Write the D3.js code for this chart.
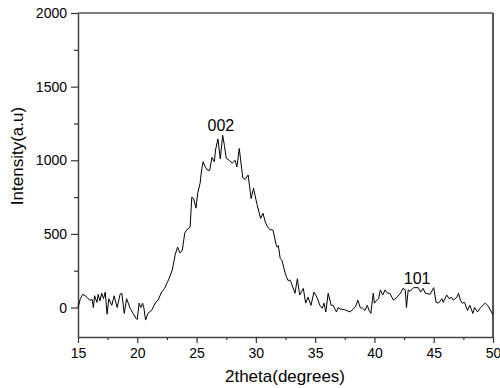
<!DOCTYPE html>
<html lang="en">
<head>
<meta charset="utf-8">
<script src="https://d3js.org/d3.v7.min.js"></script>
<style>
  body { margin: 0; background: #fff; }
  text { font-family: "Liberation Sans", Arial, sans-serif; fill: #000; }
</style>
</head>
<body>
<script>
// 2theta (degrees) and intensity
var twoTheta = [15.0,15.2,15.4,15.7,15.85,16.0,16.2,16.3,16.4,16.6,16.7,16.85,17.0,17.15,17.3,17.45,17.6,17.85,18.05,18.3,18.55,18.7,18.9,19.1,19.4,19.65,19.9,20.0,20.15,20.3,20.45,20.55,20.7,20.9,21.2,21.55,21.75,22.05,22.3,22.5,22.7,22.95,23.2,23.4,23.6,23.8,24.0,24.2,24.45,24.6,24.75,24.95,25.1,25.3,25.4,25.55,25.7,25.9,26.1,26.3,26.5,26.6,26.8,27.0,27.2,27.35,27.5,27.75,28.0,28.25,28.4,28.6,28.9,29.1,29.35,29.6,29.8,30.1,30.4,30.6,30.8,31.0,31.2,31.45,31.7,31.8,31.9,32.05,32.2,32.45,32.6,32.7,32.9,33.0,33.3,33.5,33.7,34.0,34.2,34.4,34.65,34.9,35.15,35.4,35.6,35.75,35.9,36.1,36.35,36.5,36.8,36.95,37.1,37.5,37.95,38.4,38.6,38.8,39.0,39.2,39.4,39.55,39.7,39.9,40.0,40.2,40.35,40.5,40.7,40.9,41.1,41.3,41.6,41.9,42.2,42.4,42.6,42.7,42.85,43.0,43.3,43.7,43.9,44.1,44.3,44.7,45.0,45.2,45.4,45.7,45.8,46.1,46.3,46.5,46.65,46.95,47.1,47.25,47.4,47.6,47.85,48.05,48.3,48.45,48.7,48.95,49.35,49.6,50.0];
var intensity = [0,60,90,75,60,50,55,0,80,35,90,45,97,60,105,-45,60,15,80,0,90,97,-40,60,-5,-40,-75,-80,30,0,30,0,-85,-40,-20,35,50,105,130,165,200,255,360,410,370,390,505,530,545,750,740,675,780,845,920,990,960,935,930,1020,990,1070,1145,1010,1170,1100,1015,1000,980,1000,955,1080,880,870,900,740,810,700,605,640,580,545,530,525,430,410,420,335,320,240,205,185,185,165,97,195,85,130,30,70,15,105,70,15,-5,30,-30,97,15,15,-30,0,-10,-15,-30,5,50,0,-5,-20,15,-20,-40,97,30,50,60,120,85,120,97,97,50,70,97,130,120,0,120,110,135,135,105,130,97,90,135,35,30,60,35,85,60,70,50,70,97,50,30,35,-20,15,-40,0,-30,0,30,10,-50];

var xTicks = [15,20,25,30,35,40,45,50];
var yTicks = [0,500,1000,1500,2000];
var peakLabels = ["002","101"];
var peakPos = [27.05,43.6];
var peakVal = [1170,135];

var width = 500, height = 388;
var margin = { left: 78, right: 7, top: 13, bottom: 51 };

var svg = d3.select("body").append("svg")
  .attr("width", width)
  .attr("height", height);

var x = d3.scaleLinear().domain([15, 50]).range([margin.left, width - margin.right]);
var y = d3.scaleLinear().domain([-200, 2000]).range([height - margin.bottom, margin.top]);

// minor ticks
svg.append("g")
  .attr("transform", "translate(0," + (height - margin.bottom) + ")")
  .call(d3.axisBottom(x).tickValues(d3.range(17.5, 50, 5)).tickSize(3).tickFormat(""))
  .call(function (g) { g.select(".domain").remove(); });
svg.append("g")
  .attr("transform", "translate(" + margin.left + ",0)")
  .call(d3.axisLeft(y).tickValues([250, 750, 1250, 1750]).tickSize(4).tickFormat(""))
  .call(function (g) { g.select(".domain").remove(); });

// main axes
svg.append("g")
  .attr("transform", "translate(0," + (height - margin.bottom) + ")")
  .call(d3.axisBottom(x).tickValues(xTicks).tickSize(6).tickPadding(5).tickSizeOuter(0).tickFormat(d3.format("d")));
svg.append("g")
  .attr("transform", "translate(" + margin.left + ",0)")
  .call(d3.axisLeft(y).tickValues(yTicks).tickSize(7).tickPadding(4).tickSizeOuter(0).tickFormat(d3.format("d")));

svg.selectAll(".tick line").attr("stroke", "#333").attr("stroke-width", 1.2);
svg.selectAll(".domain").attr("stroke", "#444").attr("stroke-width", 1.5);
svg.selectAll(".tick text").style("font-size", "14px").style("font-family", "'Liberation Sans', Arial, sans-serif");

// frame top and right
svg.append("line")
  .attr("x1", x(15)).attr("x2", x(50))
  .attr("y1", y(2000)).attr("y2", y(2000))
  .attr("stroke", "#000").attr("stroke-width", 1);
svg.append("line")
  .attr("x1", x(50)).attr("x2", x(50))
  .attr("y1", y(2000)).attr("y2", y(-200))
  .attr("stroke", "#555").attr("stroke-width", 2);

// pattern
var line = d3.line()
  .x(function (d, i) { return x(twoTheta[i]); })
  .y(function (d) { return y(d); });

svg.append("path")
  .datum(intensity)
  .attr("fill", "none")
  .attr("stroke", "#000")
  .attr("stroke-width", 1)
  .attr("d", line);

// peak labels
svg.selectAll(".peak")
  .data(peakLabels)
  .join("text")
  .attr("class", "peak")
  .attr("x", function (d, i) { return x(peakPos[i]); })
  .attr("y", function (d, i) { return y(peakVal[i]) - 4; })
  .attr("text-anchor", "middle")
  .style("font-size", "16px")
  .text(function (d) { return d; });

// axis titles
svg.append("text")
  .attr("x", 285)
  .attr("y", 382)
  .attr("text-anchor", "middle")
  .style("font-size", "17px")
  .text("2theta(degrees)");

svg.append("text")
  .attr("transform", "translate(23,156) rotate(-90)")
  .attr("text-anchor", "middle")
  .style("font-size", "17px")
  .text("Intensity(a.u)");
</script>
</body>
</html>
